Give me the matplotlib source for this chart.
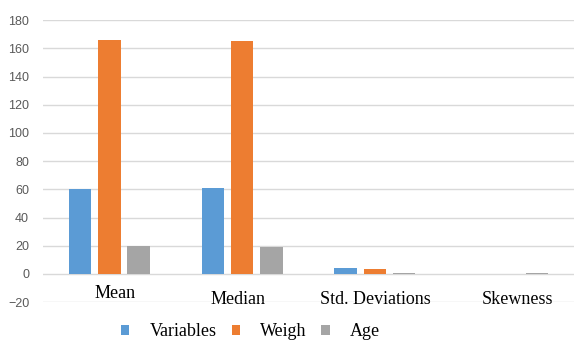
import numpy as np
import matplotlib.pyplot as plt

plt.rcParams["font.serif"] = ["Liberation Serif", "Times New Roman", "DejaVu Serif"]

categories = ["Mean", "Median", "Std. Deviations", "Skewness"]
series_names = ["Variables", "Weigh", "Age"]
variables = [60, 61, 4.5, 0]
weigh = [166, 165, 3.5, 0]
age = [20, 19, 1, 1]
y_ticks = [-20, 0, 20, 40, 60, 80, 100, 120, 140, 160, 180]

colors = ["#5B9BD5", "#ED7D31", "#A5A5A5"]

fig = plt.figure(figsize=(5.74, 3.41), dpi=100)
ax = fig.add_axes([0.075, 0.114, 0.925, 0.827])

x = np.arange(len(categories))
width = 0.17
step = 0.22
for i, (vals, name) in enumerate(zip([variables, weigh, age], series_names)):
    ax.bar(x + (i - 1) * step, vals, width, color=colors[i], label=name, zorder=3)

ax.set_xlim(-0.5, len(categories) - 0.5)
ax.set_ylim(-20, 180)
ax.set_yticks(y_ticks)
ax.tick_params(axis="y", length=0, pad=10, labelsize=9, labelcolor="#595959")
for lab in ax.get_yticklabels():
    lab.set_fontfamily("Liberation Sans")
ax.set_xticks([])
ax.grid(axis="y", color="#D9D9D9", linewidth=1, zorder=0)
for s in ax.spines.values():
    s.set_visible(False)

# category labels, white boxes hide most of the -20 gridline
label_dx = [0.04, -0.034, 0.0, 0.075]
label_y = [-14, -18.4, -18, -18]
box_pad = [2.2, 1.8, 0.8, 1.4]
for xi, cat, dx, ly, bp in zip(x, categories, label_dx, label_y, box_pad):
    ax.text(xi + dx, ly, cat, ha="center", va="center",
            fontsize=13, family="Liberation Serif", color="black", zorder=1,
            bbox=dict(boxstyle=f"square,pad={bp}", facecolor="white",
                      edgecolor="none", mutation_aspect=0.15))

leg = fig.legend(loc="lower center", bbox_to_anchor=(0.437, -0.045), ncol=3,
                 frameon=False, prop={"family": "Liberation Serif", "size": 13},
                 handlelength=0.45, handleheight=0.45, columnspacing=0.8,
                 handletextpad=1.15)

fig.savefig("out.png", dpi=100)
